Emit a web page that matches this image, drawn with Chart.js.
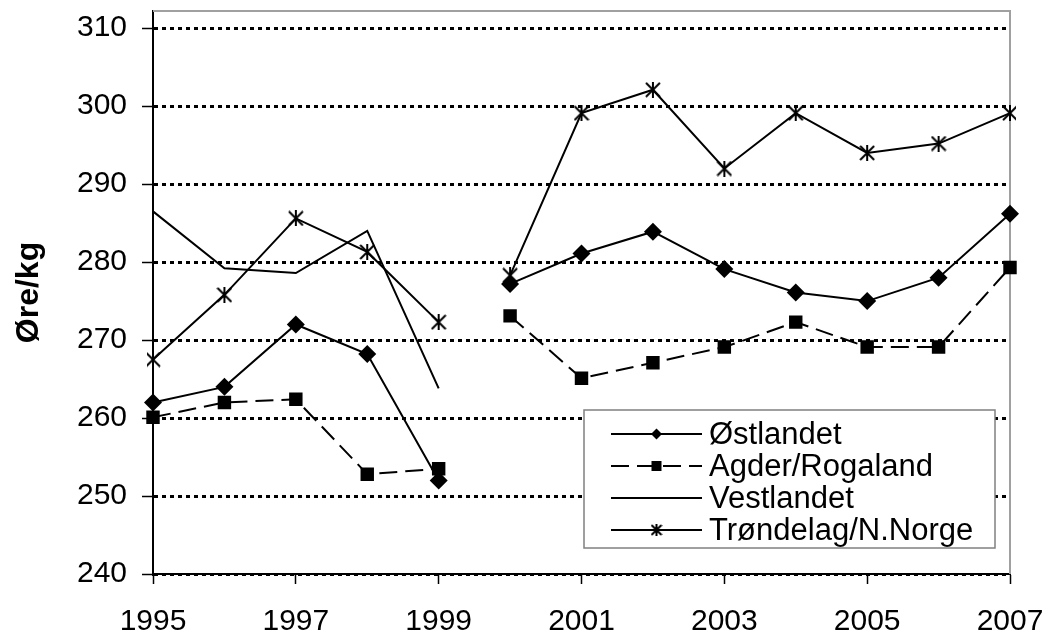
<!DOCTYPE html>
<html>
<head>
<meta charset="utf-8">
<script src="https://cdn.jsdelivr.net/npm/chart.js@4/dist/chart.umd.min.js"></script>
<style>
  html, body { margin: 0; padding: 0; background: #fff; }
  #wrap { width: 1048px; height: 640px; }
</style>
</head>
<body>
<div id="wrap"><canvas id="priceChart" width="1048" height="640"></canvas></div>
<script>
// data
const years = ['1995','1996','1997','1998','1999','2000','2001','2002','2003','2004','2005','2006','2007'];
const ostlandet = [262, 264, 272, 268.2, 252, 277.2, 281.1, 283.9, 279.1, 276.1, 275, 278, 286.2];
const agderRogaland = [260.1, 262, 262.4, 252.8, 253.5, 273.1, 265.1, 267.1, 269.1, 272.3, 269.1, 269.1, 279.3];
const vestlandet = [286.5, 279.2, 278.6, 284, 263.8, null, null, null, null, null, null, null, null];
const trondelag = [267.5, 275.8, 285.6, 281.3, 272.3, 278.3, 299.1, 302.1, 292, 299.1, 294, 295.2, 299.1];
const yTicks = [240, 250, 260, 270, 280, 290, 300, 310];
const seriesNames = ['Østlandet', 'Agder/Rogaland', 'Vestlandet', 'Trøndelag/N.Norge'];

const FONT = "'Liberation Sans', Arial, sans-serif";

// star marker like the excel one: X plus vertical bar
function makeStar(size) {
    const c = document.createElement('canvas');
    c.width = size; c.height = size;
    const g = c.getContext('2d');
    g.strokeStyle = '#000';
    g.lineWidth = 2;
    const m = size / 2, r = size / 2 - 1;
    g.beginPath();
    g.moveTo(m - r, m - r); g.lineTo(m + r, m + r);
    g.moveTo(m + r, m - r); g.lineTo(m - r, m + r);
    g.moveTo(m, 0); g.lineTo(m, size);
    g.stroke();
    return c;
}
const starBig = makeStar(16);
const starSmall = makeStar(12);

// no line between 1999 and 2000
const gapSegment = {
    borderColor: ctx => ctx.p0DataIndex === 4 ? 'rgba(0,0,0,0)' : undefined
};

// gray plot frame on top/right
const framePlugin = {
    id: 'frame',
    beforeDatasetsDraw(chart) {
        const a = chart.chartArea, c = chart.ctx;
        c.save();
        c.strokeStyle = '#a0a0a0';
        c.lineWidth = 2;
        c.beginPath();
        c.moveTo(a.left, a.top);
        c.lineTo(a.right, a.top);
        c.lineTo(a.right, a.bottom);
        c.stroke();
        c.restore();
    }
};

// legend box drawn by hand so the samples show line + marker
const legendPlugin = {
    id: 'boxLegend',
    afterDraw(chart) {
        const c = chart.ctx;
        const bx = 584, by = 410, bw = 411, bh = 138;
        c.save();
        c.fillStyle = '#fff';
        c.fillRect(bx, by, bw, bh);
        c.strokeStyle = '#808080';
        c.lineWidth = 1.5;
        c.strokeRect(bx, by, bw, bh);
        c.font = '31px ' + FONT;
        c.textBaseline = 'middle';
        c.fillStyle = '#000';
        chart.data.datasets.forEach((ds, i) => {
            const y = 434 + i * 32;
            const x0 = 611, x1 = 702, xm = (x0 + x1) / 2;
            c.strokeStyle = '#000';
            c.lineWidth = 2;
            c.setLineDash(ds.borderDash || []);
            c.beginPath();
            c.moveTo(x0, y);
            c.lineTo(x1, y);
            c.stroke();
            c.setLineDash([]);
            c.fillStyle = '#000';
            if (ds.pointStyle === 'rectRot') {
                c.beginPath();
                c.moveTo(xm, y - 5.5); c.lineTo(xm + 5.5, y);
                c.lineTo(xm, y + 5.5); c.lineTo(xm - 5.5, y);
                c.closePath(); c.fill();
            } else if (ds.pointStyle === 'rect') {
                c.fillRect(xm - 5, y - 5, 10, 10);
            } else if (ds.pointStyle === starBig) {
                c.drawImage(starSmall, xm - 6, y - 6);
            }
            c.fillText(ds.label, 709, y + 1);
        });
        c.restore();
    }
};

const ctx1 = document.getElementById('priceChart');

new Chart(ctx1, {
    type: 'line',
    data: {
        labels: years,
        datasets: [
            {
                label: seriesNames[0],
                data: ostlandet,
                borderColor: '#000',
                backgroundColor: '#000',
                borderWidth: 2,
                pointStyle: 'rectRot',
                pointRadius: 9,
                pointBorderWidth: 0,
                segment: gapSegment
            },
            {
                label: seriesNames[1],
                data: agderRogaland,
                borderColor: '#000',
                backgroundColor: '#000',
                borderWidth: 2,
                borderDash: [18, 8],
                pointStyle: 'rect',
                pointRadius: 9.5,
                pointBorderWidth: 0,
                segment: gapSegment
            },
            {
                label: seriesNames[2],
                data: vestlandet,
                borderColor: '#000',
                borderWidth: 2,
                pointRadius: 0,
                spanGaps: false
            },
            {
                label: seriesNames[3],
                data: trondelag,
                borderColor: '#000',
                backgroundColor: '#000',
                borderWidth: 2,
                pointStyle: starBig,
                segment: gapSegment
            }
        ]
    },
    options: {
        responsive: false,
        animation: false,
        layout: {
            padding: { top: 11, right: 38, left: 0, bottom: 0 }
        },
        plugins: {
            legend: { display: false },
            tooltip: { enabled: false }
        },
        elements: {
            line: { tension: 0 }
        },
        scales: {
            x: {
                offset: false,
                border: { color: '#000', width: 2 },
                grid: {
                    drawOnChartArea: false,
                    tickLength: 10,
                    tickColor: c => c.index % 2 === 0 ? '#000' : 'rgba(0,0,0,0)',
                    tickWidth: 1.5
                },
                ticks: {
                    autoSkip: false,
                    maxRotation: 0,
                    color: '#000',
                    padding: 20,
                    font: { family: FONT, size: 30 },
                    callback: function (v, i) { return i % 2 === 0 ? years[i] : ''; }
                },
                afterFit: function (scale) {
                    scale.height = 66;
                    scale.paddingLeft = 0;
                    scale.paddingRight = 0;
                }
            },
            y: {
                min: 240,
                max: 312.2,
                afterBuildTicks: function (scale) {
                    scale.ticks = yTicks.map(v => ({ value: v }));
                },
                border: { color: '#000', width: 2, dash: [4, 4] },
                grid: {
                    color: '#000',
                    lineWidth: 3,
                    tickLength: 11,
                    tickColor: '#000',
                    tickWidth: 1.5,
                    tickBorderDash: []
                },
                ticks: {
                    color: '#000',
                    padding: 15,
                    font: { family: FONT, size: 30 }
                },
                title: {
                    display: true,
                    text: 'Øre/kg',
                    color: '#000',
                    padding: { top: 10, bottom: 0 },
                    font: { family: FONT, size: 32, weight: 'bold' }
                },
                afterFit: function (scale) {
                    scale.width = 153;
                    scale.paddingTop = 0;
                    scale.paddingBottom = 0;
                }
            }
        }
    },
    plugins: [framePlugin, legendPlugin]
});
</script>
</body>
</html>
